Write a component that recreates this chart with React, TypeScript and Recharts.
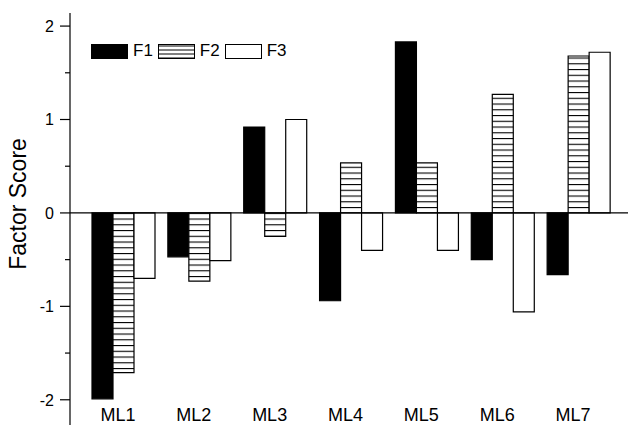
import React from 'react';
import {
  BarChart,
  Bar,
  XAxis,
  YAxis,
  Legend,
  ReferenceLine
} from 'recharts';

const categories = ['ML1', 'ML2', 'ML3', 'ML4', 'ML5', 'ML6', 'ML7'];
const f1 = [-1.99, -0.47, 0.92, -0.94, 1.83, -0.5, -0.66];
const f2 = [-1.71, -0.73, -0.25, 0.535, 0.535, 1.27, 1.68];
const f3 = [-0.7, -0.51, 1.0, -0.4, -0.4, -1.06, 1.72];
const yTicks = [-2, -1.5, -1, -0.5, 0, 0.5, 1, 1.5, 2];

const data = categories.map((name, i) => ({
  name,
  F1: f1[i],
  F2: f2[i],
  F3: f3[i]
}));

const FONT = '"Liberation Sans", Arial, sans-serif';

const YTick = (props: any) => {
  const { x, y, payload } = props;
  const v = payload.value;
  const major = Number.isInteger(v);
  return (
    <g>
      <line x1={x - (major ? 10 : 5)} x2={x} y1={y} y2={y} stroke="#000" strokeWidth={1.2} />
      {major && (
        <text x={x - 16} y={y} dy="0.36em" textAnchor="end" fontSize={16} fontFamily={FONT} fill="#000">
          {v}
        </text>
      )}
    </g>
  );
};

const XTick = (props: any) => {
  const { x, y, payload } = props;
  return (
    <text x={x - 5} y={y - 4} textAnchor="middle" fontSize={18} fontFamily={FONT} fill="#000">
      {payload.value}
    </text>
  );
};

const Swatch = ({ kind }: { kind: string }) => (
  <svg width={37} height={15} style={{ display: 'block' }}>
    <defs>
      <pattern id={'lg-hatch'} patternUnits="userSpaceOnUse" width={8} height={4}>
        <line x1={0} x2={8} y1={2} y2={2} stroke="#000" strokeWidth={1} />
      </pattern>
    </defs>
    <rect
      x={0.5}
      y={0.5}
      width={36}
      height={14}
      fill={kind === 'F1' ? '#000' : kind === 'F2' ? 'url(#lg-hatch)' : '#fff'}
      stroke="#000"
      strokeWidth={1}
    />
  </svg>
);

const LegendContent = () => (
  <div style={{ display: 'flex', alignItems: 'center', fontFamily: FONT, fontSize: 17, color: '#000' }}>
    {['F1', 'F2', 'F3'].map((k) => (
      <div key={k} style={{ display: 'flex', alignItems: 'center', marginRight: 5 }}>
        <Swatch kind={k} />
        <span style={{ marginLeft: 5 }}>{k}</span>
      </div>
    ))}
  </div>
);

const App = () => {
  return (
    <div style={{ position: 'absolute', left: 0, top: 0, width: 628, height: 426, background: '#fff' }}>
      <BarChart
        width={628}
        height={426}
        data={data}
        margin={{ top: 13, right: 0, left: 0, bottom: 0 }}
        barGap={0}
        barCategoryGap={7}
      >
        <defs>
          <pattern id="hatch" patternUnits="userSpaceOnUse" width={10} height={5.75}>
            <rect x={0} y={0} width={10} height={5.75} fill="#fff" />
            <line x1={0} x2={10} y1={0.5} y2={0.5} stroke="#000" strokeWidth={1.2} />
          </pattern>
        </defs>
        <XAxis
          dataKey="name"
          height={1}
          axisLine={false}
          tickLine={false}
          tickSize={0}
          tickMargin={0}
          tick={<XTick />}
          padding={{ left: 15, right: 12 }}
          interval={0}
        />
        <YAxis
          width={70}
          domain={[-2.27, 2.14]}
          ticks={yTicks}
          allowDataOverflow
          tickSize={0}
          tickMargin={0}
          tickLine={false}
          tick={<YTick />}
          axisLine={{ stroke: '#000', strokeWidth: 1.2 }}
          interval={0}
          label={{
            content: (p: any) => {
              const vb = p.viewBox || { x: 0, y: 13, width: 70, height: 412 };
              const cx = vb.x + 26;
              const cy = vb.y + vb.height / 2 - 15;
              return (
                <text
                  x={cx}
                  y={cy}
                  transform={`rotate(-90 ${cx} ${cy})`}
                  textAnchor="middle"
                  fontSize={23}
                  fontFamily={FONT}
                  fill="#000"
                >
                  Factor Score
                </text>
              );
            }
          }}
        />
        <Legend
          layout="horizontal"
          verticalAlign="middle"
          align="center"
          wrapperStyle={{ left: 91, top: 41, width: 'auto' }}
          content={<LegendContent />}
        />
        <Bar dataKey="F1" fill="#000" stroke="#000" strokeWidth={1.2} isAnimationActive={false} />
        <Bar dataKey="F2" fill="url(#hatch)" stroke="#000" strokeWidth={1.2} isAnimationActive={false} />
        <Bar dataKey="F3" fill="#fff" stroke="#000" strokeWidth={1.2} isAnimationActive={false} />
        <ReferenceLine y={0} stroke="#000" strokeWidth={1.2} />
      </BarChart>
    </div>
  );
};

export default App;
